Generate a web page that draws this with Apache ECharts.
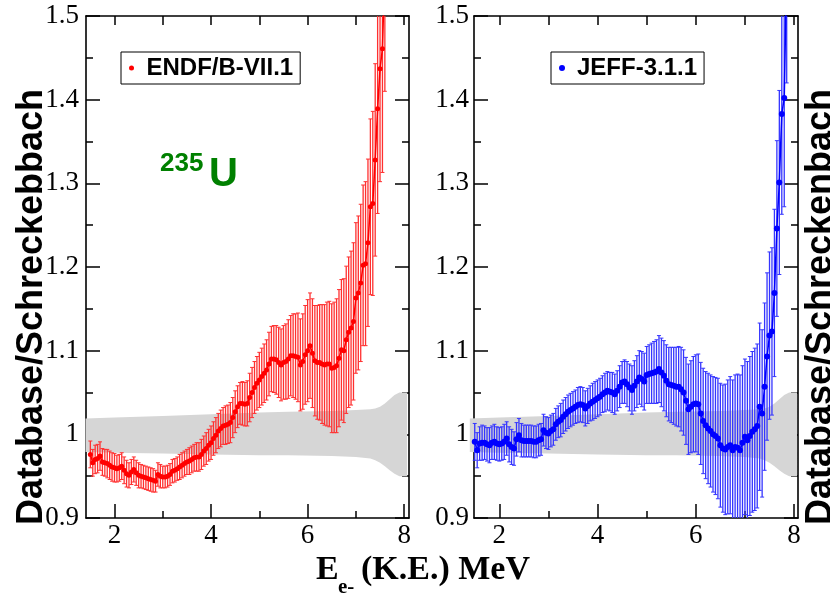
<!DOCTYPE html>
<html>
<head>
<meta charset="utf-8">
<script src="https://cdn.jsdelivr.net/npm/echarts@6/dist/echarts.min.js"></script>
<style>
  html, body { margin: 0; padding: 0; background: #fff; }
  #chart { width: 830px; height: 593px; }
</style>
</head>
<body>
<div id="chart"></div>
<script>
// Electron kinetic energy grid (MeV) for each database ratio
const energyENDF = [
  1.50,1.55,1.60,1.65,1.70,1.75,1.80,1.85,1.90,1.95,
  2.00,2.05,2.10,2.15,2.20,2.25,2.30,2.35,2.40,2.45,
  2.50,2.55,2.60,2.65,2.70,2.75,2.80,2.85,2.90,2.95,
  3.00,3.05,3.10,3.15,3.20,3.25,3.30,3.35,3.40,3.45,
  3.50,3.55,3.60,3.65,3.70,3.75,3.80,3.85,3.90,3.95,
  4.00,4.05,4.10,4.15,4.20,4.25,4.30,4.35,4.40,4.45,
  4.50,4.55,4.60,4.65,4.70,4.75,4.80,4.85,4.90,4.95,
  5.00,5.05,5.10,5.15,5.20,5.25,5.30,5.35,5.40,5.45,
  5.50,5.55,5.60,5.65,5.70,5.75,5.80,5.85,5.90,5.95,
  6.00,6.05,6.10,6.15,6.20,6.25,6.30,6.35,6.40,6.45,
  6.50,6.55,6.60,6.65,6.70,6.75,6.80,6.85,6.90,6.95,
  7.00,7.05,7.10,7.15,7.20,7.25,7.30,7.35,7.40,7.45,
  7.50,7.55,7.60
];
// ENDF/B-VII.1 / Schreckenbach ratio and its uncertainty
const ratioENDF = [
  0.976,0.966,0.970,0.971,0.974,0.967,0.966,0.965,0.963,0.961,
  0.960,0.959,0.960,0.962,0.957,0.953,0.951,0.955,0.958,0.954,
  0.951,0.950,0.949,0.948,0.947,0.946,0.945,0.944,0.952,0.950,
  0.949,0.949,0.950,0.952,0.956,0.957,0.959,0.961,0.963,0.965,
  0.967,0.968,0.970,0.972,0.973,0.973,0.976,0.980,0.983,0.987,
  0.990,0.995,0.999,1.004,1.007,1.010,1.011,1.012,1.014,1.020,
  1.027,1.033,1.037,1.037,1.036,1.037,1.044,1.050,1.056,1.061,
  1.065,1.069,1.073,1.077,1.084,1.090,1.090,1.089,1.086,1.083,
  1.086,1.087,1.090,1.094,1.094,1.093,1.092,1.083,1.087,1.095,
  1.100,1.106,1.097,1.088,1.086,1.086,1.084,1.083,1.084,1.084,
  1.079,1.080,1.082,1.091,1.101,1.100,1.113,1.122,1.127,1.135,
  1.163,1.169,1.181,1.202,1.204,1.229,1.272,1.276,1.328,1.389,
  1.437,1.461,1.560
];
const errENDF = [
  0.016,0.016,0.017,0.017,0.017,0.016,0.016,0.017,0.017,0.017,
  0.017,0.016,0.016,0.016,0.016,0.016,0.015,0.015,0.015,0.015,
  0.015,0.014,0.014,0.014,0.014,0.014,0.014,0.013,0.014,0.014,
  0.013,0.013,0.013,0.013,0.014,0.014,0.014,0.015,0.015,0.015,
  0.015,0.016,0.016,0.016,0.017,0.017,0.018,0.018,0.019,0.019,
  0.020,0.020,0.021,0.021,0.022,0.022,0.023,0.023,0.024,0.024,
  0.025,0.025,0.025,0.026,0.026,0.027,0.029,0.030,0.031,0.032,
  0.033,0.034,0.035,0.036,0.038,0.039,0.040,0.041,0.042,0.043,
  0.044,0.045,0.047,0.048,0.050,0.051,0.053,0.055,0.057,0.059,
  0.061,0.063,0.065,0.066,0.068,0.069,0.071,0.072,0.074,0.075,
  0.077,0.078,0.080,0.082,0.084,0.086,0.088,0.090,0.092,0.094,
  0.090,0.092,0.094,0.096,0.098,0.100,0.105,0.110,0.115,0.125,
  0.135,0.148,0.150
];

const energyJEFF = [
  1.50,1.55,1.60,1.65,1.70,1.75,1.80,1.85,1.90,1.95,
  2.00,2.05,2.10,2.15,2.20,2.25,2.30,2.35,2.40,2.45,
  2.50,2.55,2.60,2.65,2.70,2.75,2.80,2.85,2.90,2.95,
  3.00,3.05,3.10,3.15,3.20,3.25,3.30,3.35,3.40,3.45,
  3.50,3.55,3.60,3.65,3.70,3.75,3.80,3.85,3.90,3.95,
  4.00,4.05,4.10,4.15,4.20,4.25,4.30,4.35,4.40,4.45,
  4.50,4.55,4.60,4.65,4.70,4.75,4.80,4.85,4.90,4.95,
  5.00,5.05,5.10,5.15,5.20,5.25,5.30,5.35,5.40,5.45,
  5.50,5.55,5.60,5.65,5.70,5.75,5.80,5.85,5.90,5.95,
  6.00,6.05,6.10,6.15,6.20,6.25,6.30,6.35,6.40,6.45,
  6.50,6.55,6.60,6.65,6.70,6.75,6.80,6.85,6.90,6.95,
  7.00,7.05,7.10,7.15,7.20,7.25,7.30,7.35,7.40,7.45,
  7.50,7.55,7.60,7.65,7.70,7.75,7.80,7.85
];
// JEFF-3.1.1 / Schreckenbach ratio and its uncertainty
const ratioJEFF = [
  0.991,0.981,0.989,0.990,0.990,0.988,0.987,0.990,0.991,0.989,
  0.988,0.989,0.991,0.995,0.988,0.985,0.983,0.994,0.999,0.993,
  0.992,0.992,0.992,0.992,0.991,0.991,0.993,0.994,1.005,1.002,
  1.001,1.004,1.006,1.012,1.015,1.017,1.021,1.024,1.027,1.029,
  1.031,1.033,1.035,1.036,1.035,1.031,1.034,1.037,1.039,1.041,
  1.043,1.045,1.048,1.050,1.052,1.051,1.050,1.048,1.052,1.057,
  1.062,1.063,1.060,1.056,1.053,1.058,1.063,1.068,1.066,1.063,
  1.071,1.072,1.073,1.074,1.075,1.078,1.074,1.070,1.064,1.060,
  1.059,1.058,1.057,1.057,1.054,1.050,1.040,1.030,1.033,1.036,
  1.037,1.036,1.025,1.016,1.011,1.007,1.004,1.000,0.998,0.995,
  0.987,0.983,0.982,0.985,0.987,0.981,0.985,0.984,0.981,0.990,
  0.997,0.993,0.998,1.003,1.006,1.010,1.033,1.025,1.057,1.093,
  1.118,1.123,1.169,1.246,1.301,1.383,1.402,1.560
];
const errJEFF = [
  0.022,0.021,0.020,0.021,0.020,0.020,0.021,0.020,0.021,0.020,
  0.020,0.020,0.021,0.020,0.021,0.021,0.020,0.020,0.020,0.020,
  0.019,0.019,0.019,0.019,0.019,0.019,0.019,0.019,0.019,0.019,
  0.019,0.019,0.019,0.019,0.019,0.020,0.020,0.020,0.020,0.020,
  0.020,0.020,0.021,0.021,0.021,0.021,0.021,0.021,0.022,0.022,
  0.022,0.022,0.022,0.023,0.023,0.023,0.024,0.024,0.024,0.025,
  0.025,0.026,0.027,0.028,0.029,0.030,0.031,0.032,0.033,0.034,
  0.034,0.035,0.036,0.037,0.038,0.040,0.041,0.042,0.043,0.044,
  0.045,0.046,0.047,0.048,0.050,0.051,0.052,0.054,0.055,0.057,
  0.058,0.060,0.061,0.063,0.064,0.066,0.067,0.069,0.070,0.072,
  0.074,0.076,0.078,0.080,0.082,0.084,0.086,0.088,0.090,0.092,
  0.093,0.094,0.095,0.096,0.097,0.098,0.100,0.100,0.100,0.100,
  0.100,0.100,0.100,0.105,0.110,0.120,0.130,0.140
];

// Uncertainty band of the Schreckenbach measurement (ratio = 1 +/- sigma)
const bandE  = [1.40, 2.00, 3.00, 4.00, 5.00, 5.60, 6.50, 7.00, 7.30, 7.40, 7.50, 7.60, 7.70, 7.80, 7.90, 8.06];
const bandHi = [1.019,1.020,1.022,1.024,1.026,1.027,1.028,1.029,1.030,1.031,1.033,1.037,1.042,1.047,1.050,1.050];
const bandLo = [0.979,0.978,0.977,0.976,0.975,0.975,0.974,0.973,0.971,0.969,0.966,0.962,0.957,0.953,0.950,0.950];

// Axis ticks
const yTickStep = 0.1;
const xLabelValues = [2, 4, 6, 8];
const xMinorValues = [3, 5, 7];
const xTopValues = [2, 3, 4, 5, 6, 7, 8];

const SERIF = 'Liberation Serif';
const SANS = 'Liberation Sans';
const BAND_COLOR = '#d6d6d6';

function zipPoints(xs, ys) { return xs.map((x, i) => [x, ys[i]]); }
function zipErrors(xs, ys, es) { return xs.map((x, i) => [x, ys[i], es[i]]); }

function bandRenderer(params, api) {
  if (params.dataIndex !== 0) return null;
  const upper = [], lower = [];
  for (let i = 0; i < bandE.length; i++) {
    upper.push(api.coord([bandE[i], bandHi[i]]));
    lower.unshift(api.coord([bandE[i], bandLo[i]]));
  }
  return { type: 'polygon', silent: true, shape: { points: upper.concat(lower) }, style: { fill: BAND_COLOR } };
}

function errorBarRenderer(color) {
  return function (params, api) {
    const x = api.value(0), y = api.value(1), e = api.value(2);
    const cs = params.coordSys;
    const yTopLimit = cs.y, yBotLimit = cs.y + cs.height;
    const top = api.coord([x, y + e]);
    const bot = api.coord([x, y - e]);
    const t = Math.max(top[1], yTopLimit);
    const b = Math.min(bot[1], yBotLimit);
    if (t >= b) return null;
    const cap = 2;
    const children = [{
      type: 'line', shape: { x1: top[0], y1: t, x2: top[0], y2: b },
      style: { stroke: color, lineWidth: 1.3 }
    }];
    if (top[1] >= yTopLimit) children.push({
      type: 'line', shape: { x1: top[0] - cap, y1: top[1], x2: top[0] + cap, y2: top[1] },
      style: { stroke: color, lineWidth: 1 }
    });
    if (bot[1] <= yBotLimit) children.push({
      type: 'line', shape: { x1: bot[0] - cap, y1: bot[1], x2: bot[0] + cap, y2: bot[1] },
      style: { stroke: color, lineWidth: 1 }
    });
    return { type: 'group', silent: true, children };
  };
}

const axisLineStyle = { color: '#000', width: 1.6 };
const tickLineStyle = { color: '#000', width: 1.5 };

function yAxisDef(grid, position, showLabels, margin) {
  return {
    type: 'value', gridIndex: grid, position,
    min: 0.9, max: 1.5, interval: yTickStep,
    axisLine: { show: true, onZero: false, lineStyle: axisLineStyle },
    axisTick: { show: true, inside: true, length: 14, lineStyle: tickLineStyle },
    minorTick: { show: true, splitNumber: 2, length: 7, lineStyle: tickLineStyle },
    splitLine: { show: false }, minorSplitLine: { show: false },
    axisLabel: {
      show: showLabels, margin, showMinLabel: true, showMaxLabel: true,
      fontFamily: SERIF, fontSize: 27, color: '#000'
    }
  };
}

function xAxisMajor(grid, min, max) {
  return {
    type: 'value', gridIndex: grid, position: 'bottom', min, max,
    axisLine: { show: true, onZero: false, lineStyle: axisLineStyle },
    axisTick: { show: true, inside: true, length: 14, customValues: xLabelValues, lineStyle: tickLineStyle },
    axisLabel: { show: true, customValues: xLabelValues, margin: 4, fontFamily: SERIF, fontSize: 27, color: '#000' },
    splitLine: { show: false }
  };
}
function xAxisMinor(grid, min, max) {
  return {
    type: 'value', gridIndex: grid, position: 'bottom', min, max,
    axisLine: { show: false, onZero: false },
    axisTick: { show: true, inside: true, length: 7, customValues: xMinorValues, lineStyle: tickLineStyle },
    axisLabel: { show: false },
    splitLine: { show: false }
  };
}
function xAxisTop(grid, min, max) {
  return {
    type: 'value', gridIndex: grid, position: 'top', min, max,
    axisLine: { show: true, onZero: false, lineStyle: axisLineStyle },
    axisTick: { show: true, inside: true, length: 9, customValues: xTopValues, lineStyle: tickLineStyle },
    axisLabel: { show: false },
    splitLine: { show: false }
  };
}

const legendCommon = {
  orient: 'horizontal', icon: 'circle', itemWidth: 20, selectedMode: false,
  padding: [4, 7, 4, 8], borderColor: '#000', borderWidth: 1, backgroundColor: '#fff',
  textStyle: { fontFamily: SANS, fontWeight: 'bold', fontSize: 24, lineHeight: 24, color: '#000' }
};

const chart = echarts.init(document.getElementById('chart'), null, { renderer: 'canvas' });

chart.setOption({
  animation: false,
  backgroundColor: '#fff',
  grid: [
    { left: 86, top: 16, width: 323, height: 502 },
    { left: 474, top: 16, width: 324, height: 502 }
  ],
  xAxis: [
    xAxisMajor(0, 1.41, 8.1), xAxisMinor(0, 1.41, 8.1), xAxisTop(0, 1.41, 8.1),
    xAxisMajor(1, 1.485, 8.08), xAxisMinor(1, 1.485, 8.08), xAxisTop(1, 1.485, 8.08)
  ],
  yAxis: [
    yAxisDef(0, 'left', true, 7), yAxisDef(0, 'right', false, 0),
    yAxisDef(1, 'left', true, 5), yAxisDef(1, 'right', false, 0)
  ],
  legend: [
    Object.assign({}, legendCommon, { data: ['ENDF/B-VII.1'], left: 121, top: 52, itemHeight: 5 }),
    Object.assign({}, legendCommon, { data: ['JEFF-3.1.1'], left: 551, top: 52, itemHeight: 6 })
  ],
  series: [
    {
      name: 'band-endf', type: 'custom', xAxisIndex: 0, yAxisIndex: 0, z: 1, silent: true,
      data: zipErrors(bandE, bandLo, bandHi), encode: { x: 0, y: [1, 2] },
      renderItem: bandRenderer
    },
    {
      name: 'err-endf', type: 'custom', xAxisIndex: 0, yAxisIndex: 0, z: 2, silent: true,
      data: zipErrors(energyENDF, ratioENDF, errENDF), encode: { x: 0, y: 1 },
      renderItem: errorBarRenderer('#ff3030')
    },
    {
      name: 'ENDF/B-VII.1', type: 'line', xAxisIndex: 0, yAxisIndex: 0, z: 3, clip: true,
      data: zipPoints(energyENDF, ratioENDF),
      symbol: 'circle', symbolSize: 5, showSymbol: true,
      itemStyle: { color: '#ff0000' }, lineStyle: { color: '#ff0000', width: 1.5 }
    },
    {
      name: 'band-jeff', type: 'custom', xAxisIndex: 3, yAxisIndex: 2, z: 1, silent: true,
      data: zipErrors(bandE, bandLo, bandHi), encode: { x: 0, y: [1, 2] },
      renderItem: bandRenderer
    },
    {
      name: 'err-jeff', type: 'custom', xAxisIndex: 3, yAxisIndex: 2, z: 2, silent: true,
      data: zipErrors(energyJEFF, ratioJEFF, errJEFF), encode: { x: 0, y: 1 },
      renderItem: errorBarRenderer('#3535ff')
    },
    {
      name: 'JEFF-3.1.1', type: 'line', xAxisIndex: 3, yAxisIndex: 2, z: 3, clip: true,
      data: zipPoints(energyJEFF, ratioJEFF),
      symbol: 'circle', symbolSize: 6, showSymbol: true,
      itemStyle: { color: '#0000ff' }, lineStyle: { color: '#0000ff', width: 1.5 }
    }
  ],
  graphic: [
    {
      type: 'text', x: 32, y: 307, rotation: Math.PI / 2, silent: true,
      style: { text: 'Database/Schreckebbach', fontFamily: SANS, fontWeight: 'bold', fontSize: 36, fill: '#000',
               align: 'center', verticalAlign: 'middle', textAlign: 'center', textVerticalAlign: 'middle' }
    },
    {
      type: 'text', x: 821, y: 307, rotation: Math.PI / 2, silent: true,
      style: { text: 'Database/Schreckenbach', fontFamily: SANS, fontWeight: 'bold', fontSize: 36, fill: '#000',
               align: 'center', verticalAlign: 'middle', textAlign: 'center', textVerticalAlign: 'middle' }
    },
    {
      type: 'text', x: 316, y: 570, silent: true,
      style: { text: 'E', fontFamily: SERIF, fontWeight: 'bold', fontSize: 34, fill: '#000',
               align: 'left', verticalAlign: 'middle', textAlign: 'left', textVerticalAlign: 'middle' }
    },
    {
      type: 'text', x: 338, y: 588, silent: true,
      style: { text: 'e-', fontFamily: SERIF, fontWeight: 'bold', fontSize: 21, fill: '#000',
               align: 'left', verticalAlign: 'middle', textAlign: 'left', textVerticalAlign: 'middle' }
    },
    {
      type: 'text', x: 361, y: 570, silent: true,
      style: { text: '(K.E.) MeV', fontFamily: SERIF, fontWeight: 'bold', fontSize: 34, fill: '#000',
               align: 'left', verticalAlign: 'middle', textAlign: 'left', textVerticalAlign: 'middle' }
    },
    {
      type: 'text', x: 160, y: 164, silent: true,
      style: { text: '235', fontFamily: SANS, fontWeight: 'bold', fontSize: 26, fill: '#008000',
               align: 'left', verticalAlign: 'middle', textAlign: 'left', textVerticalAlign: 'middle' }
    },
    {
      type: 'text', x: 209, y: 175, silent: true,
      style: { text: 'U', fontFamily: SANS, fontWeight: 'bold', fontSize: 40, fill: '#008000',
               align: 'left', verticalAlign: 'middle', textAlign: 'left', textVerticalAlign: 'middle' }
    }
  ]
});
</script>
</body>
</html>
